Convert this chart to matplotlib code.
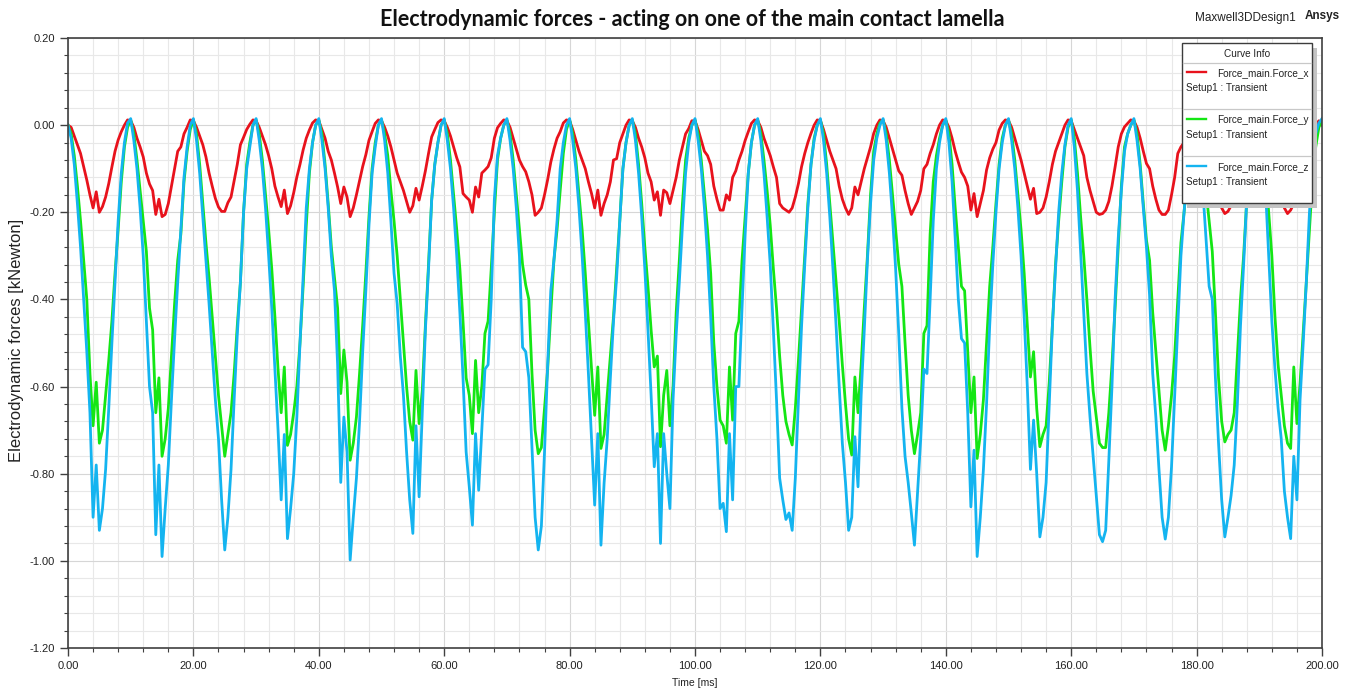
import numpy as np
import matplotlib
matplotlib.use("Agg")
import matplotlib.pyplot as plt
from matplotlib.patches import Rectangle
from matplotlib.ticker import MultipleLocator, FormatStrFormatter

# time axis: 0 .. 200 ms in 0.5 ms steps (20 samples per 10 ms period)
time_ms = np.arange(401) * 0.5

# Force_main.Force_x [kN]
force_x = [
    0.0, -0.005, -0.025, -0.045, -0.065, -0.095, -0.126, -0.16, -0.19, -0.153, -0.20, -0.187, -0.165, -0.134, -0.096, -0.06, -0.034, -0.015, 0.0, 0.012,
    0.01, -0.005, -0.03, -0.05, -0.073, -0.11, -0.135, -0.15, -0.205, -0.17, -0.21, -0.205, -0.18, -0.14, -0.10, -0.06, -0.05, -0.02, -0.005, 0.012,
    0.01, -0.005, -0.025, -0.045, -0.073, -0.11, -0.14, -0.168, -0.188, -0.198, -0.198, -0.178, -0.165, -0.128, -0.09, -0.045, -0.028, -0.01, 0.002, 0.012,
    0.01, -0.005, -0.025, -0.045, -0.07, -0.10, -0.14, -0.165, -0.187, -0.149, -0.203, -0.185, -0.155, -0.119, -0.09, -0.057, -0.03, -0.011, 0.005, 0.012,
    0.01, -0.01, -0.03, -0.06, -0.08, -0.11, -0.142, -0.18, -0.142, -0.165, -0.21, -0.19, -0.16, -0.128, -0.095, -0.068, -0.035, -0.015, 0.004, 0.012,
    0.01, -0.005, -0.025, -0.05, -0.08, -0.11, -0.13, -0.15, -0.175, -0.20, -0.185, -0.145, -0.172, -0.14, -0.105, -0.065, -0.027, -0.01, 0.006, 0.012,
    0.01, -0.005, -0.025, -0.05, -0.075, -0.096, -0.157, -0.165, -0.172, -0.20, -0.142, -0.165, -0.11, -0.103, -0.095, -0.075, -0.03, -0.006, 0.004, 0.012,
    0.01, -0.005, -0.03, -0.055, -0.08, -0.095, -0.107, -0.13, -0.16, -0.207, -0.20, -0.19, -0.16, -0.125, -0.085, -0.055, -0.03, -0.015, 0.005, 0.012,
    0.01, -0.01, -0.035, -0.06, -0.08, -0.10, -0.13, -0.157, -0.19, -0.149, -0.207, -0.18, -0.16, -0.13, -0.08, -0.077, -0.04, -0.02, 0.0, 0.012,
    0.01, -0.005, -0.03, -0.05, -0.075, -0.11, -0.13, -0.172, -0.153, -0.207, -0.149, -0.155, -0.18, -0.15, -0.12, -0.08, -0.05, -0.02, -0.008, 0.01,
    0.01, -0.01, -0.035, -0.06, -0.07, -0.09, -0.14, -0.17, -0.195, -0.195, -0.16, -0.172, -0.12, -0.105, -0.08, -0.06, -0.035, -0.015, 0.004, 0.012,
    0.01, -0.005, -0.03, -0.05, -0.07, -0.096, -0.12, -0.18, -0.19, -0.195, -0.20, -0.19, -0.165, -0.134, -0.095, -0.065, -0.04, -0.019, 0.0, 0.012,
    0.01, -0.01, -0.035, -0.06, -0.08, -0.10, -0.14, -0.17, -0.19, -0.205, -0.19, -0.142, -0.16, -0.13, -0.10, -0.075, -0.05, -0.019, 0.0, 0.012,
    0.01, -0.005, -0.03, -0.055, -0.08, -0.105, -0.115, -0.15, -0.18, -0.205, -0.19, -0.175, -0.15, -0.10, -0.09, -0.065, -0.045, -0.02, 0.0, 0.012,
    0.01, -0.005, -0.03, -0.06, -0.085, -0.108, -0.12, -0.14, -0.195, -0.157, -0.21, -0.18, -0.15, -0.103, -0.075, -0.055, -0.04, -0.011, 0.004, 0.012,
    0.01, -0.005, -0.03, -0.055, -0.08, -0.11, -0.14, -0.17, -0.145, -0.203, -0.20, -0.19, -0.165, -0.13, -0.09, -0.06, -0.04, -0.02, 0.0, 0.012,
    0.01, -0.01, -0.03, -0.05, -0.07, -0.12, -0.15, -0.175, -0.20, -0.205, -0.203, -0.195, -0.175, -0.14, -0.096, -0.05, -0.02, -0.004, 0.004, 0.012,
    0.01, -0.005, -0.03, -0.06, -0.088, -0.10, -0.14, -0.17, -0.195, -0.205, -0.205, -0.195, -0.16, -0.12, -0.065, -0.05, -0.04, -0.02, 0.0, 0.012,
    0.01, -0.005, -0.025, -0.05, -0.08, -0.11, -0.14, -0.17, -0.19, -0.203, -0.198, -0.185, -0.16, -0.13, -0.095, -0.06, -0.035, -0.015, 0.0, 0.012,
    0.01, -0.005, -0.025, -0.05, -0.08, -0.11, -0.14, -0.17, -0.19, -0.203, -0.195, -0.18, -0.155, -0.12, -0.09, -0.06, -0.035, -0.015, 0.0, 0.01,
    0.0,
]

# Force_main.Force_y [kN]
force_y = [
    0.0, -0.02, -0.07, -0.14, -0.22, -0.31, -0.40, -0.57, -0.69, -0.59, -0.73, -0.70, -0.62, -0.54, -0.45, -0.34, -0.24, -0.13, -0.05, -0.005,
    0.012, -0.02, -0.08, -0.15, -0.22, -0.29, -0.42, -0.47, -0.66, -0.58, -0.76, -0.72, -0.65, -0.53, -0.41, -0.31, -0.25, -0.13, -0.06, -0.01,
    0.012, -0.02, -0.09, -0.18, -0.27, -0.35, -0.44, -0.53, -0.62, -0.69, -0.76, -0.71, -0.66, -0.57, -0.46, -0.36, -0.20, -0.09, -0.04, 0.0,
    0.012, -0.02, -0.08, -0.16, -0.24, -0.33, -0.44, -0.56, -0.66, -0.555, -0.735, -0.71, -0.66, -0.60, -0.50, -0.37, -0.23, -0.11, -0.04, 0.0,
    0.012, -0.02, -0.09, -0.18, -0.28, -0.35, -0.42, -0.616, -0.516, -0.59, -0.769, -0.73, -0.67, -0.57, -0.46, -0.34, -0.21, -0.10, -0.04, 0.0,
    0.012, -0.02, -0.07, -0.15, -0.22, -0.30, -0.40, -0.50, -0.60, -0.68, -0.723, -0.563, -0.685, -0.61, -0.46, -0.32, -0.172, -0.09, -0.04, 0.0,
    0.012, -0.02, -0.08, -0.16, -0.24, -0.33, -0.45, -0.58, -0.62, -0.708, -0.54, -0.66, -0.60, -0.478, -0.45, -0.33, -0.20, -0.08, -0.03, 0.0,
    0.012, -0.02, -0.08, -0.16, -0.24, -0.32, -0.367, -0.40, -0.57, -0.70, -0.754, -0.74, -0.65, -0.56, -0.43, -0.31, -0.24, -0.15, -0.065, -0.01,
    0.012, -0.02, -0.08, -0.16, -0.24, -0.34, -0.45, -0.56, -0.666, -0.555, -0.742, -0.71, -0.62, -0.53, -0.44, -0.33, -0.22, -0.10, -0.04, 0.0,
    0.012, -0.02, -0.09, -0.18, -0.28, -0.37, -0.47, -0.555, -0.53, -0.738, -0.62, -0.563, -0.69, -0.60, -0.43, -0.31, -0.18, -0.08, -0.03, 0.0,
    0.012, -0.02, -0.08, -0.16, -0.24, -0.34, -0.50, -0.60, -0.677, -0.69, -0.73, -0.555, -0.677, -0.478, -0.45, -0.31, -0.21, -0.11, -0.04, 0.0,
    0.012, -0.02, -0.08, -0.15, -0.23, -0.33, -0.42, -0.53, -0.62, -0.68, -0.71, -0.734, -0.65, -0.54, -0.42, -0.30, -0.18, -0.09, -0.03, 0.0,
    0.012, -0.02, -0.09, -0.18, -0.27, -0.36, -0.45, -0.55, -0.64, -0.72, -0.757, -0.578, -0.66, -0.55, -0.42, -0.30, -0.16, -0.06, -0.02, 0.005,
    0.012, -0.02, -0.08, -0.16, -0.24, -0.32, -0.37, -0.50, -0.62, -0.70, -0.754, -0.71, -0.66, -0.478, -0.46, -0.25, -0.13, -0.07, -0.03, 0.0,
    0.012, -0.02, -0.09, -0.19, -0.28, -0.37, -0.38, -0.52, -0.66, -0.578, -0.765, -0.71, -0.63, -0.50, -0.37, -0.28, -0.18, -0.09, -0.03, 0.0,
    0.012, -0.02, -0.08, -0.16, -0.24, -0.34, -0.46, -0.578, -0.52, -0.65, -0.738, -0.71, -0.69, -0.59, -0.46, -0.32, -0.22, -0.13, -0.05, -0.005,
    0.012, -0.03, -0.11, -0.21, -0.30, -0.40, -0.51, -0.61, -0.67, -0.73, -0.74, -0.74, -0.66, -0.55, -0.42, -0.28, -0.14, -0.05, -0.02, 0.0,
    0.012, -0.02, -0.09, -0.18, -0.264, -0.31, -0.43, -0.52, -0.61, -0.70, -0.746, -0.69, -0.62, -0.53, -0.40, -0.27, -0.20, -0.12, -0.05, -0.005,
    0.012, -0.02, -0.08, -0.15, -0.22, -0.29, -0.43, -0.58, -0.68, -0.727, -0.71, -0.70, -0.66, -0.53, -0.40, -0.30, -0.172, -0.09, -0.04, 0.0,
    0.012, -0.03, -0.11, -0.20, -0.30, -0.44, -0.55, -0.62, -0.69, -0.73, -0.742, -0.555, -0.685, -0.593, -0.478, -0.36, -0.24, -0.12, -0.05, -0.005,
    0.01,
]

# Force_main.Force_z [kN]
force_z = [
    0.0, -0.03, -0.09, -0.18, -0.28, -0.40, -0.52, -0.66, -0.90, -0.78, -0.93, -0.88, -0.79, -0.65, -0.50, -0.36, -0.22, -0.11, -0.04, 0.005,
    0.015, -0.035, -0.10, -0.19, -0.30, -0.45, -0.60, -0.66, -0.94, -0.78, -0.99, -0.88, -0.78, -0.63, -0.49, -0.36, -0.24, -0.12, -0.05, 0.0,
    0.015, -0.035, -0.11, -0.21, -0.31, -0.41, -0.52, -0.63, -0.72, -0.86, -0.975, -0.90, -0.79, -0.63, -0.48, -0.36, -0.20, -0.10, -0.05, 0.0,
    0.015, -0.035, -0.10, -0.19, -0.30, -0.42, -0.56, -0.70, -0.86, -0.71, -0.949, -0.88, -0.80, -0.67, -0.50, -0.35, -0.19, -0.10, -0.04, 0.0,
    0.015, -0.035, -0.10, -0.19, -0.30, -0.38, -0.55, -0.82, -0.67, -0.75, -0.998, -0.90, -0.81, -0.68, -0.52, -0.38, -0.23, -0.11, -0.05, 0.0,
    0.015, -0.035, -0.11, -0.22, -0.34, -0.41, -0.53, -0.62, -0.75, -0.86, -0.937, -0.69, -0.853, -0.66, -0.47, -0.33, -0.172, -0.09, -0.04, 0.0,
    0.015, -0.035, -0.10, -0.19, -0.30, -0.43, -0.58, -0.75, -0.83, -0.918, -0.708, -0.838, -0.70, -0.56, -0.55, -0.40, -0.17, -0.07, -0.03, 0.0,
    0.015, -0.035, -0.10, -0.19, -0.30, -0.51, -0.52, -0.58, -0.74, -0.90, -0.975, -0.92, -0.75, -0.55, -0.38, -0.31, -0.22, -0.10, -0.04, 0.0,
    0.015, -0.035, -0.10, -0.19, -0.30, -0.43, -0.57, -0.72, -0.872, -0.708, -0.964, -0.822, -0.72, -0.58, -0.45, -0.35, -0.22, -0.10, -0.04, 0.0,
    0.015, -0.035, -0.11, -0.21, -0.33, -0.47, -0.62, -0.784, -0.708, -0.96, -0.708, -0.80, -0.88, -0.63, -0.48, -0.36, -0.23, -0.11, -0.04, 0.0,
    0.015, -0.035, -0.10, -0.19, -0.30, -0.44, -0.60, -0.72, -0.88, -0.868, -0.933, -0.708, -0.86, -0.60, -0.60, -0.42, -0.25, -0.11, -0.04, 0.0,
    0.015, -0.035, -0.11, -0.21, -0.32, -0.47, -0.63, -0.81, -0.86, -0.905, -0.89, -0.93, -0.81, -0.63, -0.46, -0.32, -0.19, -0.09, -0.035, 0.0,
    0.015, -0.035, -0.11, -0.21, -0.33, -0.46, -0.60, -0.73, -0.82, -0.93, -0.90, -0.715, -0.83, -0.62, -0.47, -0.31, -0.18, -0.08, -0.03, 0.0,
    0.015, -0.035, -0.11, -0.21, -0.33, -0.48, -0.65, -0.76, -0.82, -0.89, -0.964, -0.84, -0.72, -0.56, -0.57, -0.40, -0.22, -0.10, -0.04, 0.0,
    0.015, -0.04, -0.13, -0.26, -0.40, -0.49, -0.50, -0.66, -0.876, -0.746, -0.99, -0.90, -0.79, -0.64, -0.46, -0.32, -0.20, -0.10, -0.04, 0.0,
    0.015, -0.035, -0.10, -0.19, -0.30, -0.44, -0.60, -0.79, -0.677, -0.80, -0.945, -0.90, -0.82, -0.64, -0.46, -0.33, -0.20, -0.11, -0.045, 0.0,
    0.015, -0.05, -0.15, -0.29, -0.43, -0.57, -0.67, -0.76, -0.85, -0.94, -0.956, -0.93, -0.77, -0.60, -0.40, -0.26, -0.15, -0.06, -0.02, 0.0,
    0.015, -0.035, -0.10, -0.19, -0.28, -0.39, -0.57, -0.67, -0.79, -0.90, -0.95, -0.90, -0.784, -0.62, -0.46, -0.30, -0.20, -0.12, -0.05, -0.005,
    0.015, -0.05, -0.15, -0.26, -0.37, -0.40, -0.58, -0.73, -0.86, -0.945, -0.90, -0.85, -0.78, -0.64, -0.46, -0.32, -0.17, -0.08, -0.03, 0.0,
    0.015, -0.05, -0.15, -0.30, -0.45, -0.56, -0.65, -0.72, -0.84, -0.90, -0.949, -0.76, -0.86, -0.63, -0.50, -0.36, -0.20, -0.10, -0.02, 0.005,
    0.015,
]

series_names = ["Force_main.Force_x", "Force_main.Force_y", "Force_main.Force_z"]
series_colors = ["#e8121c", "#14e614", "#14b4f0"]

W, H = 1353, 692
fig = plt.figure(figsize=(W / 100, H / 100), dpi=100)
ax = fig.add_axes([68 / W, 1 - 648 / H, (1322 - 68) / W, (648 - 38) / H])

for vals, col in zip([force_x, force_y, force_z], series_colors):
    ax.plot(time_ms, vals, color=col, lw=2.0, solid_joinstyle="round")

ax.set_xlim(0, 200)
ax.set_ylim(-1.2, 0.2)
ax.xaxis.set_major_locator(MultipleLocator(20))
ax.xaxis.set_minor_locator(MultipleLocator(4))
ax.yaxis.set_major_locator(MultipleLocator(0.2))
ax.yaxis.set_minor_locator(MultipleLocator(0.04))
ax.xaxis.set_major_formatter(FormatStrFormatter("%.2f"))
ax.yaxis.set_major_formatter(FormatStrFormatter("%.2f"))

ax.set_axisbelow(True)
ax.grid(which="major", color="#d6d6d6", lw=0.8)
ax.grid(which="minor", color="#e8e8e8", lw=0.8)

ax.tick_params(which="both", direction="out", color="#404040", labelsize=8,
               labelcolor="#222222", labelfontfamily="Liberation Sans")
ax.tick_params(which="major", length=6, width=1)
ax.tick_params(which="minor", length=3, width=0.8)
for sp in ax.spines.values():
    sp.set_color("#404040")
    sp.set_linewidth(1.2)

# titles and axis labels
fig.text(692 / W, 1 - 20 / H, "Electrodynamic forces - acting on one of the main contact lamella",
         ha="center", va="center", fontsize=15.5, fontweight="bold", family="Lato", color="#111111")
fig.text(1195 / W, 1 - 18 / H, "Maxwell3DDesign1", ha="left", va="center",
         fontsize=8.5, family="Liberation Sans", color="#222222")
fig.text(1305 / W, 1 - 16 / H, "Ansys", ha="left", va="center",
         fontsize=8.5, fontweight="bold", family="Liberation Sans", color="#222222")
fig.text(17 / W, 1 - 340 / H, "Electrodynamic forces [kNewton]", rotation=90,
         ha="center", va="center", fontsize=12, family="Liberation Sans", color="#222222")
fig.text(695 / W, 1 - 683 / H, "Time [ms]", ha="center", va="center",
         fontsize=7.5, family="Liberation Sans", color="#222222")

# curve info box, drawn in pixel coordinates
lax = fig.add_axes([0, 0, 1, 1], zorder=10)
lax.set_xlim(0, W)
lax.set_ylim(H, 0)
lax.axis("off")
lax.add_patch(Rectangle((1187, 48), 130, 160, fc="#c4c4c4", ec="none"))
lax.add_patch(Rectangle((1182, 43), 130, 160, fc="white", ec="#3c3c3c", lw=1))
lax.text(1247, 54, "Curve Info", ha="center", va="center", fontsize=7.2,
         family="Liberation Sans", color="#222222")
for yy in [63, 109, 156]:
    lax.plot([1183, 1311], [yy, yy], color="#c8c8c8", lw=0.9)
for i, (name, col) in enumerate(zip(series_names, series_colors)):
    y0 = 72 + i * 47
    lax.plot([1187, 1206], [y0, y0], color=col, lw=1.7)
    lax.text(1217, y0 + 1, name, ha="left", va="center", fontsize=7.2,
             family="Liberation Sans", color="#222222")
    lax.text(1186, y0 + 16, "Setup1 : Transient", ha="left", va="center", fontsize=7.2,
             family="Liberation Sans", color="#222222")

fig.savefig("out.png", dpi=100, facecolor="white")
